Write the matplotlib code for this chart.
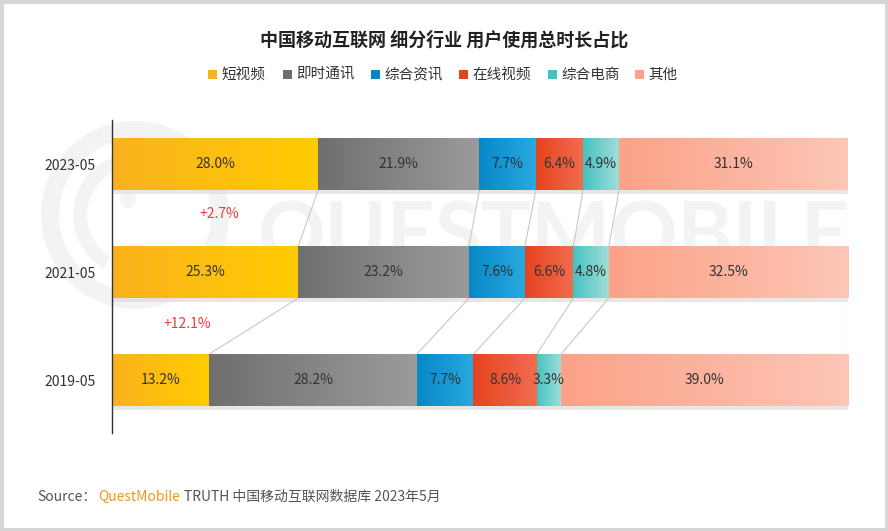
import numpy as np
import matplotlib.pyplot as plt
from matplotlib.colors import LinearSegmentedColormap
from matplotlib.patches import Rectangle, Circle, Arc

plt.rcParams['font.family'] = ['Noto Sans CJK SC', 'DejaVu Sans']

# data
periods = ['2019-05', '2021-05', '2023-05']
categories = ['短视频', '即时通讯', '综合资讯', '在线视频', '综合电商', '其他']
shares = {
    '2019-05': [13.2, 28.2, 7.7, 8.6, 3.3, 39.0],
    '2021-05': [25.3, 23.2, 7.6, 6.6, 4.8, 32.5],
    '2023-05': [28.0, 21.9, 7.7, 6.4, 4.9, 31.1],
}
growth_labels = ['+12.1%', '+2.7%']

# gradient colours (left -> right)
grad_colors = [
    ('#fbb21f', '#ffcc00'),
    ('#6f6f6f', '#9b9b9b'),
    ('#0787c6', '#2aaae0'),
    ('#e6431f', '#f06d4f'),
    ('#45c3c2', '#a3ddd8'),
    ('#fba288', '#fdc6b6'),
]

fig = plt.figure(figsize=(8.88, 5.31), dpi=100)

# background axes in pixel coords for the watermark
bg = fig.add_axes([0, 0, 1, 1], zorder=0)
bg.set_xlim(0, 888)
bg.set_ylim(531, 0)
bg.axis('off')
bg.add_patch(Circle((135, 215), 85, fill=False, lw=13, ec='#f3f3f3'))
bg.add_patch(Arc((135, 215), 110, 110, theta1=120, theta2=330, lw=10, ec='#f3f3f3'))
bg.add_patch(Circle((128, 200), 8, color='#f3f3f3', lw=0))
wm = bg.text(258, 238, 'QUESTMOBILE', fontsize=68, color='#f3f3f3', ha='left',
             va='center', family='Lato', fontweight='bold')
fig.canvas.draw()
w = wm.get_window_extent().width
wm.set_fontsize(68 * 592 / w)

ax = fig.add_axes([112/888, 1-433/531, 736/888, 313/531], zorder=1)
ax.patch.set_alpha(0)

bar_h = 0.48
grad = np.linspace(0, 1, 256).reshape(1, -1)
for i, p in enumerate(periods):
    vals = shares[p]
    left = 0
    # shadow
    ax.add_patch(Rectangle((0, i - bar_h/2 - 0.035), 100, bar_h, color='#d8d8d8',
                           alpha=0.6, zorder=1, lw=0))
    for j, v in enumerate(vals):
        cmap = LinearSegmentedColormap.from_list('g%d' % j, grad_colors[j])
        ax.imshow(grad, extent=[left, left + v, i - bar_h/2, i + bar_h/2],
                  cmap=cmap, aspect='auto', zorder=2, interpolation='bicubic')
        ax.text(left + v/2, i, '%.1f%%' % v, ha='center', va='center',
                fontsize=10, color='#333333', zorder=4)
        left += v

# connector lines between bars
for i in range(len(periods) - 1):
    lo = np.cumsum(shares[periods[i]])
    hi = np.cumsum(shares[periods[i + 1]])
    for a, b in zip(lo, hi):
        ax.plot([b, a], [i + 1 - bar_h/2, i + bar_h/2], color='#c8c8c8', lw=0.8, zorder=1.5)

# growth annotations for short video
ax.text(10.2, 0.52, growth_labels[0], color='#ee3b3b', fontsize=10, ha='center', va='center')
ax.text(14.6, 1.54, growth_labels[1], color='#ee3b3b', fontsize=10, ha='center', va='center')

ax.set_xlim(0, 100)
ax.set_ylim(-0.49, 2.41)
ax.set_yticks(range(len(periods)))
ax.set_yticklabels(periods, fontsize=10, color='#333333')
ax.tick_params(axis='y', length=0, pad=12)
ax.set_xticks([])
for s in ['top', 'right', 'bottom']:
    ax.spines[s].set_visible(False)
ax.spines['left'].set_color('#333333')
ax.spines['left'].set_linewidth(1)

# title
fig.text(0.5, 1-40/531, '中国移动互联网 细分行业 用户使用总时长占比', ha='center', va='center',
         fontsize=13, fontweight='bold', color='#222222')

# legend
leg_x = [208, 283, 371, 459, 548, 635]
for j, c in enumerate(categories):
    x = leg_x[j] / 888
    y = 1 - 75/531
    fig.patches.append(Rectangle((x, y - 4/531), 9/888, 9/531, transform=fig.transFigure,
                                 color=grad_colors[j][0], lw=0))
    fig.text(x + 13/888, y, c, ha='left', va='center', fontsize=10.5, color='#333333')

# source
fig.text(37/888, 1-497/531, 'Source：', ha='left', va='center', fontsize=10, color='#555555')
fig.text(98/888, 1-497/531, 'QuestMobile', ha='left', va='center', fontsize=10, color='#f7941d')
fig.text(184/888, 1-497/531, 'TRUTH 中国移动互联网数据库 2023年5月', ha='left', va='center',
         fontsize=10, color='#555555')

# outer frame
fig.patches.append(Rectangle((0, 0), 1, 1, transform=fig.transFigure, fill=False,
                             ec='#d6d6d6', lw=5))

fig.savefig('out.png', dpi=100)
